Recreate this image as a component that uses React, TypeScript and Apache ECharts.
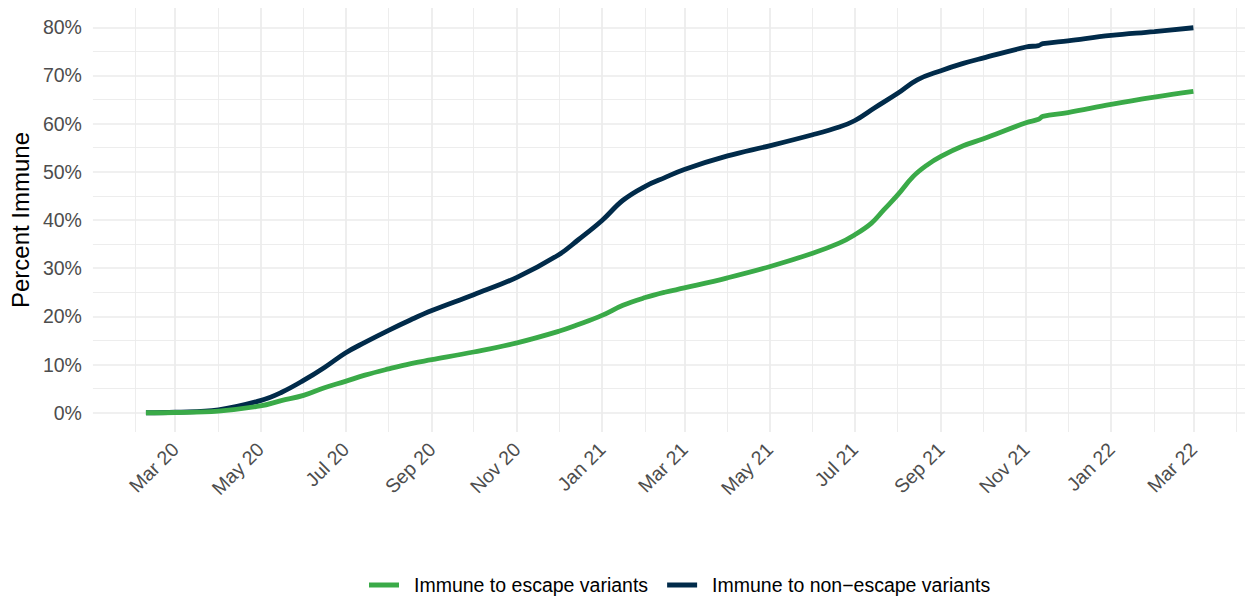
import React, { useEffect, useRef } from "react";
import * as echarts from "echarts";

const seriesNames = ["Immune to escape variants", "Immune to non\u2212escape variants"];

const escapeDates = [
  "2020-02-09", "2020-03-01", "2020-04-01", "2020-05-01", "2020-05-16", "2020-06-01", "2020-06-16",
  "2020-07-01", "2020-07-15", "2020-08-01", "2020-08-17", "2020-09-01", "2020-10-01", "2020-11-01",
  "2020-12-01", "2020-12-15", "2021-01-01", "2021-01-16", "2021-02-01", "2021-02-15", "2021-03-01",
  "2021-04-01", "2021-05-01", "2021-06-01", "2021-06-20", "2021-07-01", "2021-07-13", "2021-07-22",
  "2021-08-01", "2021-08-12", "2021-08-22", "2021-09-01", "2021-09-17", "2021-10-01", "2021-11-01",
  "2021-11-10", "2021-11-13", "2021-12-01", "2022-01-01", "2022-02-01", "2022-03-01",
];
const escapeValues = [
  0, 0.05, 0.35, 1.4, 2.5, 3.6, 5.2,
  6.5, 7.8, 9.1, 10.2, 11.0, 12.6, 14.5,
  16.9, 18.3, 20.2, 22.3, 23.9, 25.0, 25.9,
  28.0, 30.3, 33.1, 35.2, 36.9, 39.3, 42.1,
  45.2, 49.0, 51.4, 53.2, 55.4, 56.8, 60.2,
  60.9, 61.5, 62.3, 64.0, 65.5, 66.7,
];

const nonEscapeDates = [
  "2020-02-09", "2020-03-01", "2020-04-01", "2020-05-01", "2020-05-16", "2020-06-01", "2020-06-16",
  "2020-07-01", "2020-07-15", "2020-08-01", "2020-08-17", "2020-09-01", "2020-10-01", "2020-11-01",
  "2020-12-01", "2020-12-15", "2021-01-01", "2021-01-16", "2021-02-01", "2021-02-15", "2021-03-01",
  "2021-04-01", "2021-05-01", "2021-06-01", "2021-06-20", "2021-07-01", "2021-07-15", "2021-08-01",
  "2021-08-15", "2021-09-01", "2021-09-17", "2021-10-01", "2021-11-01", "2021-11-10", "2021-11-13",
  "2021-12-01", "2022-01-01", "2022-02-01", "2022-03-01",
];
const nonEscapeValues = [
  0, 0.1, 0.6, 2.5, 4.2, 6.7, 9.4,
  12.4, 14.6, 17.1, 19.3, 21.2, 24.5, 28.1,
  32.8, 35.9, 39.9, 44.1, 47.0, 48.8, 50.5,
  53.3, 55.4, 57.7, 59.3, 60.6, 63.2, 66.3,
  69.1, 71.0, 72.5, 73.6, 75.9, 76.2, 76.6,
  77.2, 78.3, 79.1, 79.9,
];

const majorDateTicks = [
  "2020-03-01", "2020-05-01", "2020-07-01", "2020-09-01", "2020-11-01", "2021-01-01", "2021-03-01",
  "2021-05-01", "2021-07-01", "2021-09-01", "2021-11-01", "2022-01-01", "2022-03-01",
];
const minorDateTicks = [
  "2020-02-01", "2020-04-01", "2020-06-01", "2020-08-01", "2020-10-01", "2020-12-01", "2021-02-01",
  "2021-04-01", "2021-06-01", "2021-08-01", "2021-10-01", "2021-12-01", "2022-02-01", "2022-04-01",
];
const majorYTicks = [0, 10, 20, 30, 40, 50, 60, 70, 80];
const minorYTicks = [5, 15, 25, 35, 45, 55, 65, 75];

const xMinDate = "2020-01-02";
const xMaxDate = "2022-04-07";
const yMin = -4;
const yMax = 84;

const monthNames = ["Jan", "Feb", "Mar", "Apr", "May", "Jun", "Jul", "Aug", "Sep", "Oct", "Nov", "Dec"];

function ts(s: string): number {
  const [y, m, d] = s.split("-").map(Number);
  return Date.UTC(y, m - 1, d);
}

export default function App() {
  const ref = useRef<HTMLDivElement>(null);
  useEffect(() => {
    if (!ref.current) return;
    const chart = echarts.init(ref.current, undefined, { renderer: "svg" });
    const font = "Liberation Sans, Arial, Helvetica, sans-serif";
    const gridColor = "#EBEBEB";
    chart.setOption({
      animation: false,
      backgroundColor: "#ffffff",
      textStyle: { fontFamily: font },
      grid: { left: 90.5, right: -6, top: 8, bottom: 164, containLabel: false },
      legend: {
        left: 369,
        top: 575,
        padding: 0,
        icon: "rect",
        itemWidth: 30,
        itemHeight: 5,
        itemGap: 19,
        textStyle: { fontSize: 19.5, color: "#000000", fontFamily: font, padding: [0, 0, 0, 10] },
        data: seriesNames,
      },
      xAxis: [
        {
          type: "value",
          min: ts(xMinDate),
          max: ts(xMaxDate),
          axisLine: { show: false },
          axisTick: { show: false, customValues: majorDateTicks.map(ts) },
          axisLabel: {
            customValues: majorDateTicks.map(ts),
            rotate: 45,
            fontSize: 19.5,
            color: "#4D4D4D",
            margin: 14,
            hideOverlap: false,
            showMinLabel: true,
            showMaxLabel: true,
            formatter: (v: number) => {
              const d = new Date(v);
              return monthNames[d.getUTCMonth()] + " " + String(d.getUTCFullYear()).slice(2);
            },
          },
          splitLine: { show: true, lineStyle: { color: gridColor, width: 1.7 } },
        },
        {
          type: "value",
          min: ts(xMinDate),
          max: ts(xMaxDate),
          position: "bottom",
          axisLine: { show: false },
          axisTick: { show: false, customValues: minorDateTicks.map(ts) },
          axisLabel: { show: false },
          splitLine: { show: true, lineStyle: { color: gridColor, width: 0.9 } },
        },
      ],
      yAxis: [
        {
          type: "value",
          min: yMin,
          max: yMax,
          name: "Percent Immune",
          nameLocation: "middle",
          nameGap: 59,
          nameTextStyle: { fontSize: 24, color: "#000000", fontFamily: font },
          axisLine: { show: false },
          axisTick: { show: false, customValues: majorYTicks },
          axisLabel: {
            customValues: majorYTicks,
            fontSize: 19.5,
            color: "#4D4D4D",
            margin: 11,
            formatter: (v: number) => v + "%",
          },
          splitLine: { show: true, lineStyle: { color: gridColor, width: 1.7 } },
        },
        {
          type: "value",
          min: yMin,
          max: yMax,
          position: "left",
          axisLine: { show: false },
          axisTick: { show: false, customValues: minorYTicks },
          axisLabel: { show: false },
          splitLine: { show: true, lineStyle: { color: gridColor, width: 0.9 } },
        },
      ],
      series: [
        {
          name: seriesNames[0],
          type: "line",
          xAxisIndex: 0,
          yAxisIndex: 0,
          showSymbol: false,
          smooth: 0.4,
          lineStyle: { color: "#3AAA48", width: 4.8 },
          itemStyle: { color: "#3AAA48" },
          data: escapeDates.map((d, i) => [ts(d), escapeValues[i]]),
          z: 3,
        },
        {
          name: seriesNames[1],
          type: "line",
          xAxisIndex: 0,
          yAxisIndex: 0,
          showSymbol: false,
          smooth: 0.4,
          lineStyle: { color: "#012B4A", width: 4.8 },
          itemStyle: { color: "#012B4A" },
          data: nonEscapeDates.map((d, i) => [ts(d), nonEscapeValues[i]]),
          z: 2,
        },
      ],
    });
    return () => chart.dispose();
  }, []);
  return (
    <div
      ref={ref}
      style={{ position: "absolute", left: 0, top: 0, width: 1245, height: 596 }}
    />
  );
}
